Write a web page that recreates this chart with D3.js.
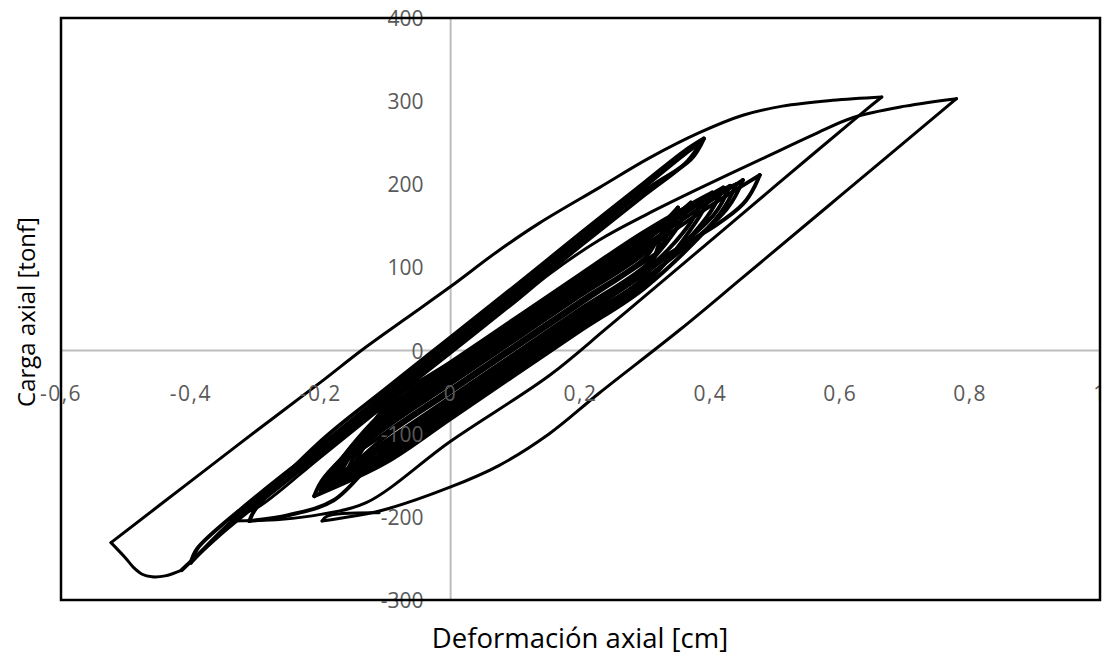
<!DOCTYPE html>
<html><head><meta charset="utf-8">
<script src="https://cdn.jsdelivr.net/npm/d3@7"></script>
<style>
html,body{margin:0;padding:0;background:#fff;}
svg{display:block;}
</style></head>
<body>
<svg id="chart" width="1102" height="662"></svg>
<script>
// ---------- DATA ----------
const xTicks = [-0.6, -0.4, -0.2, 0, 0.2, 0.4, 0.6, 0.8, 1];
const yTicks = [-300, -200, -100, 0, 100, 200, 300, 400];
const xTitle = "Deformación axial [cm]";
const yTitle = "Carga axial [tonf]";

// small cycles forming the dense central band
const bandLoops = [
  [[-0.15,-140],[-0.135,-118],[-0.1,-81],[0,-28],[0.1,25],[0.2,78],[0.3,130],[0.33,155],[0.35,172],
   [0.325,137],[0.3,90],[0.2,38],[0.1,-15],[0,-68],[-0.1,-121],[-0.17,-150]],
  [[-0.17,-150],[-0.155,-128],[-0.1,-93],[0,-40],[0.1,13],[0.2,66],[0.3,118],[0.345,160],[0.37,178],
   [0.345,143],[0.3,102],[0.2,50],[0.1,-3],[0,-56],[-0.1,-109],[-0.19,-160]],
  [[-0.19,-160],[-0.175,-138],[-0.1,-71],[0,-18],[0.1,35],[0.2,88],[0.3,140],[0.37,176],[0.403,190],
   [0.378,155],[0.3,80],[0.2,28],[0.1,-25],[0,-78],[-0.1,-131],[-0.198,-168]],
  [[-0.198,-168],[-0.183,-146],[-0.1,-87],[0,-34],[0.1,19],[0.2,72],[0.3,124],[0.36,166],[0.39,184],
   [0.365,149],[0.3,96],[0.2,44],[0.1,-9],[0,-62],[-0.1,-115],[-0.18,-156]],
  [[-0.18,-156],[-0.165,-134],[-0.1,-75],[0,-22],[0.1,31],[0.2,84],[0.3,136],[0.385,180],[0.42,196],
   [0.395,161],[0.3,84],[0.2,32],[0.1,-21],[0,-74],[-0.1,-127],[-0.2,-170]],
  [[-0.2,-170],[-0.185,-148],[-0.1,-99],[0,-46],[0.1,7],[0.2,60],[0.3,112],[0.32,135],[0.34,152],
   [0.32,120],[0.3,108],[0.2,56],[0.1,3],[0,-50],[-0.1,-103],[-0.16,-145]],
  [[-0.16,-145],[-0.145,-123],[-0.1,-67],[0,-14],[0.1,39],[0.2,92],[0.3,144],[0.4,187],[0.44,200],
   [0.415,165],[0.3,76],[0.2,24],[0.1,-29],[0,-82],[-0.1,-135],[-0.21,-175]],
  [[-0.21,-175],[-0.195,-153],[-0.1,-84],[0,-31],[0.1,22],[0.2,75],[0.3,127],[0.4,180],[0.45,205],
   [0.425,170],[0.3,87],[0.2,35],[0.1,-18],[0,-71],[-0.1,-124],[-0.19,-163]],
  [[-0.19,-163],[-0.175,-141],[-0.1,-90],[0,-37],[0.1,16],[0.2,69],[0.3,121],[0.4,174],[0.476,211],
   [0.45,176],[0.3,99],[0.2,47],[0.1,-6],[0,-59],[-0.1,-112],[-0.2,-168]],
  [[-0.2,-168],[-0.185,-146],[-0.1,-78],[0,-25],[0.1,28],[0.2,81],[0.3,133],[0.4,185],[0.43,198],
   [0.405,163],[0.3,93],[0.2,41],[0.1,-12],[0,-65],[-0.1,-118],[-0.18,-180],[-0.25,-198],[-0.31,-205]]
];

// narrow cycles reaching 0.39 cm / 255 tonf
const spikeLoops = [
  [[-0.31,-205],[-0.3,-190],[-0.2,-109],[-0.1,-46],[0,16],[0.1,78],[0.2,141],[0.3,203],[0.36,240],[0.39,255],
   [0.37,230],[0.3,193],[0.2,131],[0.1,68],[0,6],[-0.1,-56],[-0.2,-119],[-0.3,-181],[-0.35,-215],[-0.4,-255]],
  [[-0.4,-255],[-0.39,-238],[-0.3,-176],[-0.2,-114],[-0.1,-51],[0,11],[0.1,73],[0.2,136],[0.3,198],[0.36,236],[0.385,250],
   [0.365,228],[0.3,188],[0.2,126],[0.1,63],[0,1],[-0.1,-61],[-0.2,-124],[-0.3,-186],[-0.35,-218],[-0.414,-264]]
];

// compression softening then large cycle to 0.66 cm
const loopAUp = [[-0.414,-264],[-0.44,-271],[-0.46,-272],[-0.475,-269],[-0.488,-261],[-0.5,-250],[-0.523,-231],
  [-0.4,-157],[-0.3,-97],[-0.2,-38],[-0.136,1],[-0.07,38],[0,77],[0.07,118],
  [0.136,153],[0.229,196],[0.307,232],[0.383,262],[0.45,283],[0.511,294],[0.588,301],[0.664,305]];
const loopADown = [[0.664,305],[0.634,286],[0.5,198],[0.4,132],[0.3,66],[0.239,26],[0.152,-30],[0,-109],
  [-0.13,-183],[-0.2,-197],[-0.26,-203],[-0.338,-205]];

// largest cycle to 0.78 cm
const loopBUp = [[-0.338,-205],[-0.325,-196],[-0.3,-190],[-0.2,-128],[-0.1,-65],[0,-3],[0.1,59],[0.152,92],
  [0.229,133],[0.3,163],[0.383,195],[0.486,233],[0.56,260],[0.619,280],[0.7,294],[0.779,303]];
const loopBDown = [[0.779,303],[0.6,186],[0.45,88],[0.353,25],[0.229,-51],[0.152,-100],[0.075,-138],[0,-164],
  [-0.105,-192],[-0.172,-202],[-0.198,-205],[-0.19,-199],[-0.11,-195]];

// ---------- CHART ----------
const svg = d3.select("#chart");
const W = 1102, H = 662;
const plot = {left: 61, right: 1100, top: 18, bottom: 600};

const x = d3.scaleLinear().domain([-0.6, 1]).range([plot.left, plot.right]);
const y = d3.scaleLinear().domain([-300, 400]).range([plot.bottom, plot.top]);

svg.append("rect").attr("width", W).attr("height", H).attr("fill", "#fff");

// zero axis lines (gray)
svg.append("line").attr("x1", x(0)).attr("x2", x(0)).attr("y1", plot.top).attr("y2", plot.bottom)
  .attr("stroke", "#bdbdbd").attr("stroke-width", 2);
svg.append("line").attr("x1", plot.left).attr("x2", plot.right).attr("y1", y(0)).attr("y2", y(0))
  .attr("stroke", "#bdbdbd").attr("stroke-width", 2);

// split a test history into loading / unloading branches (at each reversal of deformation)
function toBranches(history) {
  const out = [];
  let cur = [history[0]], dir = 0;
  for (let i = 1; i < history.length; i++) {
    const p = history[i], q = history[i - 1];
    if (p[0] === q[0] && p[1] === q[1]) continue;
    const d = Math.sign(p[0] - q[0]);
    if (dir !== 0 && d !== 0 && d !== dir) { out.push(cur); cur = [q]; }
    if (d !== 0) dir = d;
    cur.push(p);
  }
  out.push(cur);
  return out;
}

const line = d3.line().x(d => x(d[0])).y(d => y(d[1])).curve(d3.curveCatmullRom.alpha(0.5));

svg.append("clipPath").attr("id", "clip").append("rect")
  .attr("x", plot.left).attr("y", plot.top).attr("width", plot.right - plot.left).attr("height", plot.bottom - plot.top);

const dataG = svg.append("g").attr("clip-path", "url(#clip)");

// dense inner cycles (band + spike)
const innerBranches = toBranches([].concat(...bandLoops, ...spikeLoops));
dataG.append("g").selectAll("path").data(innerBranches).join("path")
  .attr("d", line)
  .attr("fill", "none").attr("stroke", "#000").attr("stroke-width", 4)
  .attr("stroke-linejoin", "round").attr("stroke-linecap", "round");

// large outer cycles
const outerBranches = toBranches([].concat(loopAUp, loopADown, loopBUp, loopBDown));
dataG.append("g").selectAll("path").data(outerBranches).join("path")
  .attr("d", line)
  .attr("fill", "none").attr("stroke", "#000").attr("stroke-width", 3)
  .attr("stroke-linejoin", "round").attr("stroke-linecap", "round");

// tick labels (drawn over the data like the original)
const fmt = v => String(v).replace(".", ",");
const font = "'Open Sans', 'Liberation Sans', sans-serif";
svg.append("g").selectAll("text").data(xTicks).join("text")
  .attr("x", d => x(d)).attr("y", y(0) + 42)
  .attr("text-anchor", "middle").attr("dominant-baseline", "central")
  .attr("font-family", font).attr("font-size", 21).attr("letter-spacing", 1.5).attr("fill", "#595959")
  .text(fmt);
svg.append("g").selectAll("text").data(yTicks).join("text")
  .attr("x", x(0) - 27).attr("y", d => y(d))
  .attr("text-anchor", "end").attr("dominant-baseline", "central")
  .attr("font-family", font).attr("font-size", 21).attr("fill", "#595959")
  .text(d => String(d));

// frame
svg.append("rect").attr("x", plot.left).attr("y", plot.top)
  .attr("width", plot.right - plot.left).attr("height", plot.bottom - plot.top)
  .attr("fill", "none").attr("stroke", "#000").attr("stroke-width", 2.5);

// axis titles
svg.append("text").attr("x", 580).attr("y", 637)
  .attr("text-anchor", "middle").attr("dominant-baseline", "central")
  .attr("font-family", font).attr("font-size", 27.5).attr("fill", "#000")
  .text(xTitle);
svg.append("text").attr("transform", "translate(25,312) rotate(-90)")
  .attr("text-anchor", "middle").attr("dominant-baseline", "central")
  .attr("font-family", font).attr("font-size", 24).attr("fill", "#000")
  .text(yTitle);
</script>
</body></html>
